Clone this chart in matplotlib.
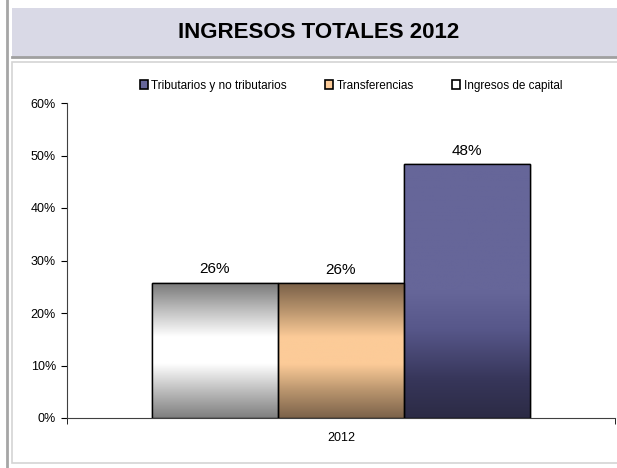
import numpy as np
import matplotlib.pyplot as plt
from matplotlib.patches import Rectangle
from matplotlib.colors import LinearSegmentedColormap
from matplotlib.ticker import PercentFormatter

plt.rcParams['font.family'] = ['Liberation Sans Narrow', 'Liberation Sans', 'DejaVu Sans']

year = '2012'
series = ['Ingresos de capital', 'Transferencias', 'Tributarios y no tributarios']
values = [25.8, 25.7, 48.3]
labels = ['26%', '26%', '48%']
legend_order = [2, 1, 0]

# gradient stops (bottom -> top)
grads = [
    [(0, '#7f7f7f'), (0.2, '#bdbdbd'), (0.4, '#ffffff'), (0.6, '#ffffff'),
     (0.8, '#bdbdbd'), (1, '#777777')],
    [(0, '#7c624a'), (0.2, '#b8946d'), (0.4, '#fccb98'), (0.6, '#fccb98'),
     (0.8, '#b8946d'), (1, '#7a6048')],
    [(0, '#2c2b45'), (0.15, '#37365a'), (0.35, '#57578a'), (0.5, '#666699'),
     (1, '#666699')],
]
swatch = ['#ffffff', '#fccb98', '#666699']

fig = plt.figure(figsize=(6.17, 4.68), dpi=100)
W, H = 617, 468

# page line, title box, chart box
fig.add_artist(plt.Line2D([7 / W, 7 / W], [0, 1], color='#a6a6a6', lw=2, zorder=-5))
fig.add_artist(Rectangle((12 / W, 1 - 57 / H), 1, 49 / H, facecolor='#d9d9e6',
                         edgecolor='none', zorder=-5))
fig.add_artist(plt.Line2D([12 / W, 1], [1 - 57 / H] * 2, color='#a0a0a0', lw=2,
                          zorder=-5))
fig.add_artist(Rectangle((12 / W, 1 - 463 / H), 1, 401 / H, facecolor='white',
                         edgecolor='#d4d4d4', lw=1.2, zorder=-5))
fig.text(319 / W, 1 - 33 / H, 'INGRESOS TOTALES 2012', ha='center', va='center',
         fontsize=16, fontweight='bold')

ax = fig.add_axes([67 / W, 1 - 418 / H, 548 / W, 315 / H])
ax.patch.set_alpha(0)

width = 0.23
xs = [-width, 0, width]
handles = []
for i in range(3):
    b = ax.bar(xs[i], values[i], width, color=swatch[i], edgecolor='black',
               lw=1, zorder=3, label=series[i])[0]
    handles.append(b)
    cmap = LinearSegmentedColormap.from_list('g%d' % i, grads[i])
    img = ax.imshow(np.linspace(0, 1, 256).reshape(-1, 1), cmap=cmap,
                    origin='lower', aspect='auto',
                    extent=[xs[i] - width / 2, xs[i] + width / 2, 0, values[i]],
                    zorder=3.5)
    img.set_clip_path(b)
    ax.bar(xs[i], values[i], width, color='none', edgecolor='black', lw=1,
           zorder=4)
    ax.text(xs[i], values[i] + 1.2, labels[i], ha='center', va='bottom',
            fontsize=11)

ax.set_xlim(-0.5, 0.5)
ax.set_ylim(0, 60)
ax.set_yticks(np.arange(0, 61, 10))
ax.yaxis.set_major_formatter(PercentFormatter(decimals=0))
ax.set_xticks([0])
ax.set_xticklabels([year])
ax.set_xticks([-0.5, 0.5], minor=True)
ax.tick_params(axis='x', which='major', length=0, pad=10, labelsize=9)
ax.tick_params(axis='x', which='minor', length=4, direction='out')
ax.tick_params(axis='y', length=4, direction='out', labelsize=9, pad=4)
for s in ['top', 'right']:
    ax.spines[s].set_visible(False)
ax.spines['left'].set_color('#404040')
ax.spines['bottom'].set_color('#404040')

leg = ax.legend([handles[k] for k in legend_order],
                [series[k] for k in legend_order],
                loc='center', bbox_to_anchor=(0.518, 1.055), ncol=3,
                frameon=False, fontsize=8.5, handlelength=0.7, handleheight=0.7,
                handletextpad=0.3, columnspacing=3.2)
for h in leg.legend_handles:
    h.set_edgecolor('black')
    h.set_linewidth(1.2)

fig.savefig('out.png', dpi=100)
